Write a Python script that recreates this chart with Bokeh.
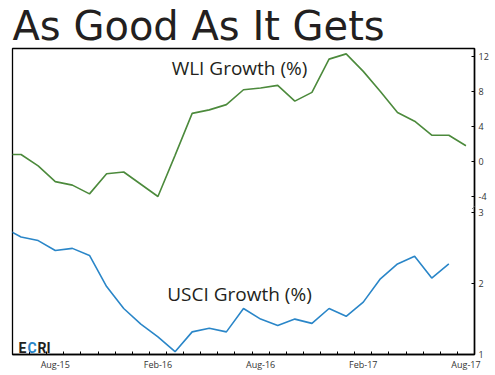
from bokeh.plotting import figure
from bokeh.models import Range1d, FixedTicker, Label, Arrow
from bokeh.embed import file_html
from bokeh.resources import INLINE

# ---- data (monthly, May-15 .. Aug-17) ----
months = ["May-15", "Jun-15", "Jul-15", "Aug-15", "Sep-15", "Oct-15", "Nov-15",
          "Dec-15", "Jan-16", "Feb-16", "Mar-16", "Apr-16", "May-16", "Jun-16",
          "Jul-16", "Aug-16", "Sep-16", "Oct-16", "Nov-16", "Dec-16", "Jan-17",
          "Feb-17", "Mar-17", "Apr-17", "May-17", "Jun-17", "Jul-17", "Aug-17"]
wli = [0.8, 0.8, -0.5, -2.3, -2.7, -3.7, -1.4, -1.2, -2.6, -4.0, 0.7, 5.5,
       5.9, 6.5, 8.2, 8.4, 8.7, 6.9, 7.9, 11.7, 12.3, 10.3, 8.0, 5.6, 4.6,
       3.0, 3.0, 1.8]
usci = [2.79, 2.66, 2.61, 2.47, 2.50, 2.40, 1.96, 1.65, 1.43, 1.25, 1.04, 1.32,
        1.37, 1.32, 1.65, 1.50, 1.41, 1.50, 1.44, 1.65, 1.54, 1.74, 2.07, 2.28,
        2.39, 2.08, 2.28]
x_labels = ["Aug-15", "Feb-16", "Aug-16", "Feb-17", "Aug-17"]
wli_ticks = [-4, 0, 4, 8, 12]
usci_ticks = [1, 2, 3]

# axis extents
first_month = "Jun-15"
n_months = 27
wli_lo, wli_hi = -22.06, 12.914
usci_lo, usci_hi = 1.0, 5.325

off = months.index(first_month)
x_center = lambda i: i - off + 0.5
x_wli = [x_center(i) for i in range(len(wli))]
x_usci = [x_center(i) for i in range(len(usci))]

GREEN = "#4c8a3c"
BLUE = "#2a86c8"
DARK = "#231f20"

p = figure(frame_width=462, frame_height=306, x_range=Range1d(0, n_months),
           y_range=Range1d(usci_lo, usci_hi), y_axis_location="right",
           toolbar_location=None, output_backend="svg",
           min_border_left=12, min_border_right=4, min_border_top=47,
           min_border_bottom=4, title="As Good As It Gets")
p.extra_y_ranges = {"wli": Range1d(wli_lo, wli_hi)}
p.xgrid.visible = False
p.ygrid.visible = False
p.outline_line_color = "black"
p.outline_line_width = 1.3
p.background_fill_color = "white"
p.border_fill_color = "white"

p.title.text_font = "DejaVu Sans"
p.title.text_font_size = "40px"
p.title.text_font_style = "normal"
p.title.text_color = DARK
p.title.align = "left"
p.title.offset = 0
p.title.standoff = 0

# x axis: month boundary ticks, labels mid-month
label_pos = [x_center(months.index(m)) for m in x_labels]
p.xaxis.ticker = FixedTicker(ticks=label_pos,
                             minor_ticks=list(range(0, n_months + 1)))
p.xaxis.major_label_overrides = {float(v): t for v, t in zip(label_pos, x_labels)}
p.xaxis.major_tick_in = 0
p.xaxis.major_tick_out = 0
p.xaxis.minor_tick_in = 3
p.xaxis.minor_tick_out = 0
p.xaxis.minor_tick_line_color = "black"
p.xaxis.axis_line_color = "black"
p.xaxis.axis_line_width = 1.5
p.xaxis.major_label_standoff = 3
p.xaxis.major_label_text_font = "Open Sans"
p.xaxis.major_label_text_font_size = "9px"
p.xaxis.major_label_text_color = "#333333"

# right axis shared by both scales
def wli_to_usci(w):
    return usci_lo + (w - wli_lo) / (wli_hi - wli_lo) * (usci_hi - usci_lo)

tick_vals = [float(u) for u in usci_ticks] + [wli_to_usci(w) for w in wli_ticks]
tick_txt = [str(u) for u in usci_ticks] + [str(w) for w in wli_ticks]
p.yaxis.ticker = FixedTicker(ticks=tick_vals)
p.yaxis.major_label_overrides = {v: t for v, t in zip(tick_vals, tick_txt)}
p.yaxis.major_tick_in = 3
p.yaxis.major_tick_out = 0
p.yaxis.minor_tick_in = 0
p.yaxis.minor_tick_out = 0
p.yaxis.major_tick_line_color = "black"
p.yaxis.axis_line_color = "black"
p.yaxis.axis_line_width = 1.5
p.yaxis.major_label_standoff = 4
p.yaxis.major_label_text_font = "Open Sans"
p.yaxis.major_label_text_font_size = "9px"
p.yaxis.major_label_text_color = "#333333"

# series
p.line(x_wli, wli, y_range_name="wli", line_color=GREEN, line_width=1.6)
p.line(x_usci, usci, line_color=BLUE, line_width=1.6)

# axis break mark
brk_y = (3 + wli_to_usci(wli_ticks[0])) / 2
p.add_layout(Arrow(end=None, x_start=n_months - 0.14, y_start=brk_y - 0.06,
                   x_end=n_months + 0.35, y_end=brk_y + 0.06,
                   line_color="#777777", line_width=1))

# texts
p.add_layout(Label(x=227, y=287, x_units="screen", y_units="screen",
                   text="WLI Growth (%)", text_font="Open Sans",
                   text_font_size="19px", text_color=DARK, text_align="center",
                   text_baseline="alphabetic"))
p.add_layout(Label(x=227, y=61, x_units="screen", y_units="screen",
                   text="USCI Growth (%)", text_font="Open Sans",
                   text_font_size="19px", text_color=DARK, text_align="center",
                   text_baseline="alphabetic"))
for txt, xx, col in [("E", 6, DARK), ("C", 15, BLUE), ("RI", 25, DARK)]:
    p.add_layout(Label(x=xx, y=7, x_units="screen", y_units="screen",
                       text=txt, text_font="Roboto", text_font_style="bold",
                       text_font_size="14px", text_color=col,
                       text_baseline="alphabetic"))

open("out.html", "w").write(file_html(p, INLINE))
